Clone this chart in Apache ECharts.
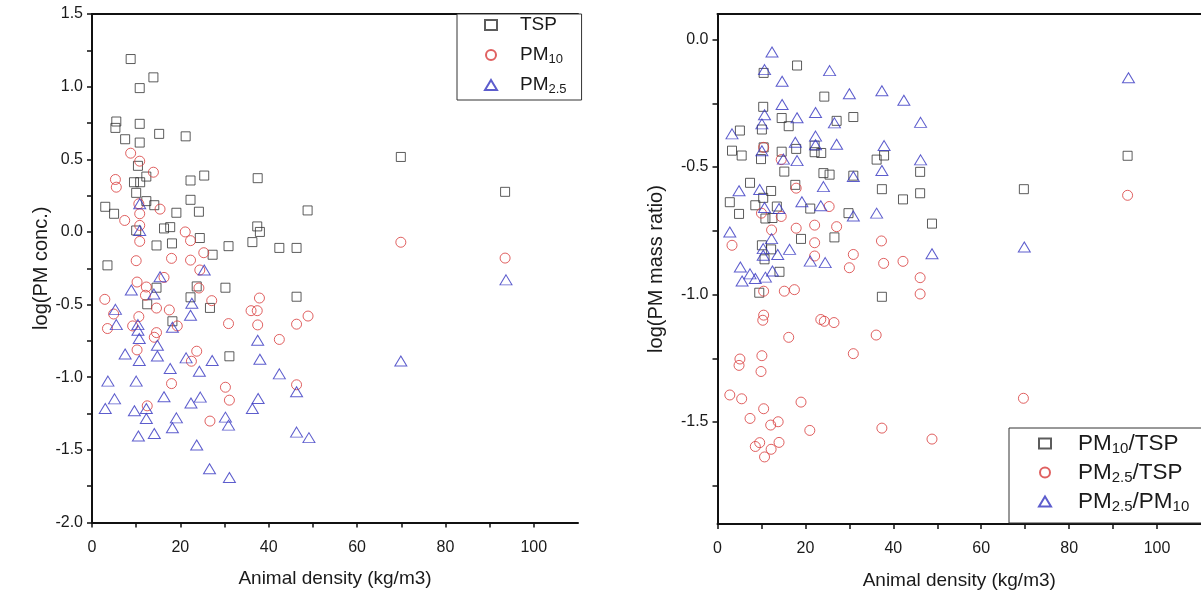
<!DOCTYPE html>
<html><head><meta charset="utf-8">
<script src="https://cdn.jsdelivr.net/npm/echarts@6/dist/echarts.min.js"></script>
<style>html,body{margin:0;padding:0;background:#fff}#c{width:1201px;height:596px}</style>
</head><body><div id="c"></div><script>
// ---- Left panel: log(PM conc.) vs animal density ----
const tsp = [[8.75,1.19],[13.9,1.064],[10.8,0.99],[5.5,0.76],[5.3,0.716],[10.8,0.744],[15.2,0.675],[21.2,0.658],[7.5,0.638],[10.8,0.615],[10.4,0.455],[12.3,0.381],[25.4,0.388],[37.5,0.37],[9.5,0.342],[10.9,0.342],[22.3,0.354],[10.0,0.269],[3.0,0.173],[5.0,0.125],[12.3,0.212],[14.1,0.184],[22.3,0.221],[19.1,0.132],[24.2,0.139],[16.3,0.024],[17.7,0.033],[37.4,0.038],[38.0,0.0],[10.0,0.01],[14.6,-0.093],[18.1,-0.079],[24.4,-0.042],[30.9,-0.098],[36.3,-0.07],[42.4,-0.11],[46.3,-0.11],[27.3,-0.157],[3.5,-0.23],[14.6,-0.384],[23.7,-0.375],[30.2,-0.384],[22.3,-0.45],[12.5,-0.498],[26.7,-0.523],[46.3,-0.446],[18.2,-0.615],[31.1,-0.856],[48.8,0.148],[69.9,0.516],[93.5,0.276]];
const pm10 = [[8.75,0.542],[10.8,0.487],[13.9,0.411],[5.3,0.361],[5.5,0.308],[10.6,0.194],[10.8,0.125],[15.4,0.157],[7.4,0.079],[10.8,0.045],[21.1,0.0],[22.3,-0.06],[10.8,-0.065],[10.0,-0.198],[18.0,-0.182],[22.3,-0.194],[25.3,-0.143],[24.4,-0.262],[16.3,-0.313],[10.2,-0.345],[12.3,-0.379],[12.1,-0.436],[2.9,-0.464],[24.2,-0.386],[27.1,-0.473],[37.9,-0.455],[14.6,-0.524],[17.5,-0.537],[10.6,-0.583],[36.0,-0.542],[37.4,-0.542],[4.9,-0.565],[3.5,-0.665],[9.2,-0.647],[19.3,-0.647],[14.6,-0.693],[14.1,-0.725],[30.9,-0.631],[37.5,-0.64],[46.3,-0.635],[42.4,-0.74],[10.2,-0.812],[23.7,-0.821],[22.5,-0.89],[18.0,-1.044],[30.2,-1.069],[31.1,-1.158],[46.3,-1.052],[12.5,-1.197],[26.7,-1.302],[48.9,-0.579],[69.9,-0.071],[93.5,-0.18]];
const pm25 = [[10.8,0.194],[10.8,0.01],[25.4,-0.262],[15.4,-0.308],[8.9,-0.4],[14.0,-0.427],[22.6,-0.491],[5.3,-0.533],[22.3,-0.574],[5.5,-0.638],[10.4,-0.638],[10.4,-0.677],[18.2,-0.656],[10.7,-0.734],[14.8,-0.78],[7.5,-0.84],[10.7,-0.885],[14.8,-0.854],[21.3,-0.867],[27.2,-0.885],[37.5,-0.746],[38.0,-0.876],[17.7,-0.94],[24.3,-0.959],[42.4,-0.977],[3.6,-1.027],[10.0,-1.027],[5.1,-1.149],[16.3,-1.135],[24.5,-1.137],[22.4,-1.177],[37.6,-1.147],[3.0,-1.215],[9.6,-1.231],[12.3,-1.215],[12.3,-1.284],[19.1,-1.28],[36.3,-1.215],[30.2,-1.275],[30.9,-1.33],[18.2,-1.348],[46.3,-1.1],[46.3,-1.378],[49.1,-1.416],[10.5,-1.405],[14.1,-1.387],[23.7,-1.467],[26.6,-1.63],[31.1,-1.69],[69.9,-0.888],[93.7,-0.33]];

// ---- Right panel: log(PM mass ratio) vs animal density ----
const pm10Tsp = [[18.1,-0.102],[10.5,-0.131],[24.3,-0.224],[10.4,-0.264],[14.6,-0.308],[16.2,-0.34],[27.1,-0.319],[30.9,-0.304],[5.1,-0.357],[10.1,-0.353],[3.3,-0.436],[5.5,-0.455],[9.9,-0.469],[10.5,-0.423],[14.6,-0.44],[17.9,-0.429],[22.1,-0.416],[22.1,-0.442],[23.6,-0.445],[36.2,-0.471],[37.9,-0.455],[15.2,-0.518],[24.1,-0.524],[25.5,-0.53],[30.9,-0.534],[46.1,-0.519],[7.4,-0.562],[12.2,-0.594],[17.7,-0.57],[37.4,-0.587],[46.1,-0.603],[42.2,-0.627],[2.8,-0.638],[8.6,-0.65],[10.4,-0.621],[13.5,-0.655],[21.1,-0.663],[29.8,-0.681],[4.9,-0.684],[10.9,-0.702],[12.5,-0.7],[48.8,-0.722],[19.0,-0.782],[26.6,-0.776],[10.1,-0.807],[12.2,-0.823],[10.7,-0.862],[14.1,-0.911],[9.5,-0.993],[37.4,-1.009],[69.7,-0.587],[93.3,-0.456]];
const pm25Tsp = [[10.5,-0.423],[14.5,-0.471],[17.9,-0.583],[25.4,-0.655],[10.0,-0.681],[14.5,-0.694],[12.3,-0.747],[17.9,-0.74],[22.1,-0.728],[27.1,-0.734],[3.3,-0.807],[22.1,-0.797],[37.3,-0.79],[30.9,-0.843],[22.1,-0.849],[37.8,-0.878],[42.2,-0.87],[30.0,-0.895],[46.1,-0.934],[46.1,-0.998],[10.5,-0.987],[15.2,-0.987],[17.5,-0.981],[10.5,-1.081],[10.3,-1.101],[23.5,-1.098],[24.3,-1.105],[26.5,-1.11],[16.2,-1.168],[36.1,-1.159],[30.9,-1.232],[5.1,-1.253],[4.9,-1.278],[10.1,-1.24],[9.9,-1.302],[2.8,-1.394],[5.5,-1.409],[10.5,-1.448],[19.0,-1.422],[7.4,-1.486],[12.1,-1.512],[13.8,-1.499],[21.0,-1.533],[37.4,-1.524],[48.8,-1.567],[8.6,-1.596],[9.6,-1.581],[12.2,-1.607],[14.0,-1.58],[10.7,-1.637],[69.6,-1.407],[93.3,-0.611]];
const pm25Pm10 = [[12.4,-0.049],[10.7,-0.118],[25.5,-0.122],[14.7,-0.164],[30.0,-0.213],[37.4,-0.201],[42.4,-0.238],[14.7,-0.255],[22.3,-0.286],[10.7,-0.295],[18.1,-0.307],[10.1,-0.331],[26.6,-0.327],[46.2,-0.325],[3.3,-0.37],[22.3,-0.379],[17.7,-0.403],[22.3,-0.413],[27.1,-0.411],[10.1,-0.436],[37.9,-0.416],[15.0,-0.469],[18.1,-0.475],[46.2,-0.472],[37.4,-0.514],[30.9,-0.537],[24.1,-0.577],[4.9,-0.593],[9.6,-0.588],[19.2,-0.636],[23.5,-0.652],[10.7,-0.659],[14.0,-0.663],[30.9,-0.692],[36.2,-0.681],[2.8,-0.755],[12.3,-0.781],[16.4,-0.823],[10.4,-0.82],[13.7,-0.843],[48.8,-0.84],[10.4,-0.846],[21.1,-0.869],[24.5,-0.875],[5.2,-0.892],[7.4,-0.919],[5.6,-0.947],[8.6,-0.937],[10.9,-0.932],[12.5,-0.908],[69.8,-0.814],[93.5,-0.15]];

// ---- Tick values / labels ----
const xTicks = [0,10,20,30,40,50,60,70,80,90,100];
const xTickLabels = [0,20,40,60,80,100];
const yLeftTicks = [-2,-1.75,-1.5,-1.25,-1,-0.75,-0.5,-0.25,0,0.25,0.5,0.75,1,1.25,1.5];
const yLeftTickLabels = [-2,-1.5,-1,-0.5,0,0.5,1,1.5];
const yRightTicks = [-1.75,-1.5,-1.25,-1,-0.75,-0.5,-0.25,0];
const yRightTickLabels = [-1.5,-1,-0.5,0];

const FONT = '"Liberation Sans", Arial, sans-serif';
const TXT = '#1a1a1a';
const C_SQ = '#333333', C_CI = '#d83a3a', C_TR = '#3434c0';

function mainX(grid, min, max) {
  return {
    gridIndex: grid, type: 'value', min: min, max: max, position: 'bottom',
    axisLine: { show: true, onZero: false, lineStyle: { color: '#111', width: 2 } },
    axisTick: { show: true, inside: false, length: 5, customValues: xTicks, lineStyle: { color: '#111', width: 1.5 } },
    axisLabel: { customValues: xTickLabels, fontSize: 16, color: TXT, fontFamily: FONT, margin: 17 },
    splitLine: { show: false },
    name: 'Animal density (kg/m3)', nameLocation: 'middle', nameGap: 47,
    nameTextStyle: { fontSize: 19, color: TXT, fontFamily: FONT }
  };
}
function frameX(grid, min, max) {
  return {
    gridIndex: grid, type: 'value', min: min, max: max, position: 'top',
    axisLine: { show: true, onZero: false, lineStyle: { color: '#111', width: 2 } },
    axisTick: { show: false }, axisLabel: { show: false }, splitLine: { show: false }
  };
}
function mainY(grid, min, max, ticks, labels, name, gap) {
  return {
    gridIndex: grid, type: 'value', min: min, max: max, position: 'left',
    axisLine: { show: true, onZero: false, lineStyle: { color: '#111', width: 2 } },
    axisTick: { show: true, inside: false, length: 5, customValues: ticks, lineStyle: { color: '#111', width: 1.5 } },
    axisLabel: { customValues: labels, fontSize: 16, color: TXT, fontFamily: FONT, margin: 9,
      formatter: v => Number(v).toFixed(1) },
    splitLine: { show: false },
    name: name, nameLocation: 'middle', nameGap: gap, nameRotate: 90,
    nameTextStyle: { fontSize: 20, color: TXT, fontFamily: FONT }
  };
}
function sc(name, data, xi, yi, symbol, size, color) {
  return {
    name: name, type: 'scatter', xAxisIndex: xi, yAxisIndex: yi, data: data,
    symbol: symbol, symbolSize: size,
    itemStyle: { color: 'rgba(255,255,255,0)', borderColor: color, borderWidth: 1 },
    emphasis: { disabled: true }
  };
}
const subFmt = name => name.replace(/(10|2\.5)/g, '{s|$1}').replace(/^([^{]+)/, '{m|$1}').replace(/\}([^{}|]+)\{/g, '}{m|$1}{').replace(/\}([^{}|]+)$/, '}{m|$1}');

const chart = echarts.init(document.getElementById('c'), null, { renderer: 'canvas' });
chart.setOption({
  animation: false,
  backgroundColor: '#fff',
  grid: [
    { left: 92, top: 14, width: 486, height: 508.5 },
    { left: 717.5, top: 14, width: 486, height: 510 }
  ],
  xAxis: [ mainX(0, 0, 110), mainX(1, 0, 110), frameX(0, 0, 110), frameX(1, 0, 110) ],
  yAxis: [
    mainY(0, -2, 1.5, yLeftTicks, yLeftTickLabels, 'log(PM conc.)', 36),
    mainY(1, -1.9, 0.1, yRightTicks, yRightTickLabels, 'log(PM mass ratio)', 51)
  ],
  legend: [
    {
      data: ['TSP', 'PM10', 'PM2.5'], orient: 'vertical', left: 457, top: 14,
      itemWidth: 12, itemHeight: 10, itemGap: 8, padding: [0, 15, 4, 27],
      borderColor: '#333', borderWidth: 1, backgroundColor: '#fff',
      selectedMode: false, formatter: subFmt,
      textStyle: { color: TXT, fontFamily: FONT, fontSize: 19, lineHeight: 22, padding: [0, 0, 0, 18],
        rich: { m: { fontSize: 19, fontFamily: FONT, color: TXT, lineHeight: 22 },
                s: { fontSize: 13, fontFamily: FONT, color: TXT, lineHeight: 22, verticalAlign: 'bottom' } } }
    },
    {
      data: ['PM10/TSP', 'PM2.5/TSP', 'PM2.5/PM10'], orient: 'vertical', left: 1009, top: 428,
      itemWidth: 12, itemHeight: 10, itemGap: 4, padding: [3, 40, 9, 29],
      borderColor: '#333', borderWidth: 1, backgroundColor: '#fff',
      selectedMode: false, formatter: subFmt,
      textStyle: { color: TXT, fontFamily: FONT, fontSize: 22.5, lineHeight: 25, padding: [0, 0, 0, 22],
        rich: { m: { fontSize: 22.5, fontFamily: FONT, color: TXT, lineHeight: 25 },
                s: { fontSize: 15, fontFamily: FONT, color: TXT, lineHeight: 25, verticalAlign: 'bottom' } } }
    }
  ],
  series: [
    sc('TSP', tsp, 0, 0, 'rect', 9, C_SQ),
    sc('PM10', pm10, 0, 0, 'circle', 10, C_CI),
    sc('PM2.5', pm25, 0, 0, 'triangle', [12, 10], C_TR),
    sc('PM10/TSP', pm10Tsp, 1, 1, 'rect', 9, C_SQ),
    sc('PM2.5/TSP', pm25Tsp, 1, 1, 'circle', 10, C_CI),
    sc('PM2.5/PM10', pm25Pm10, 1, 1, 'triangle', [12, 10], C_TR)
  ]
});
</script></body></html>
